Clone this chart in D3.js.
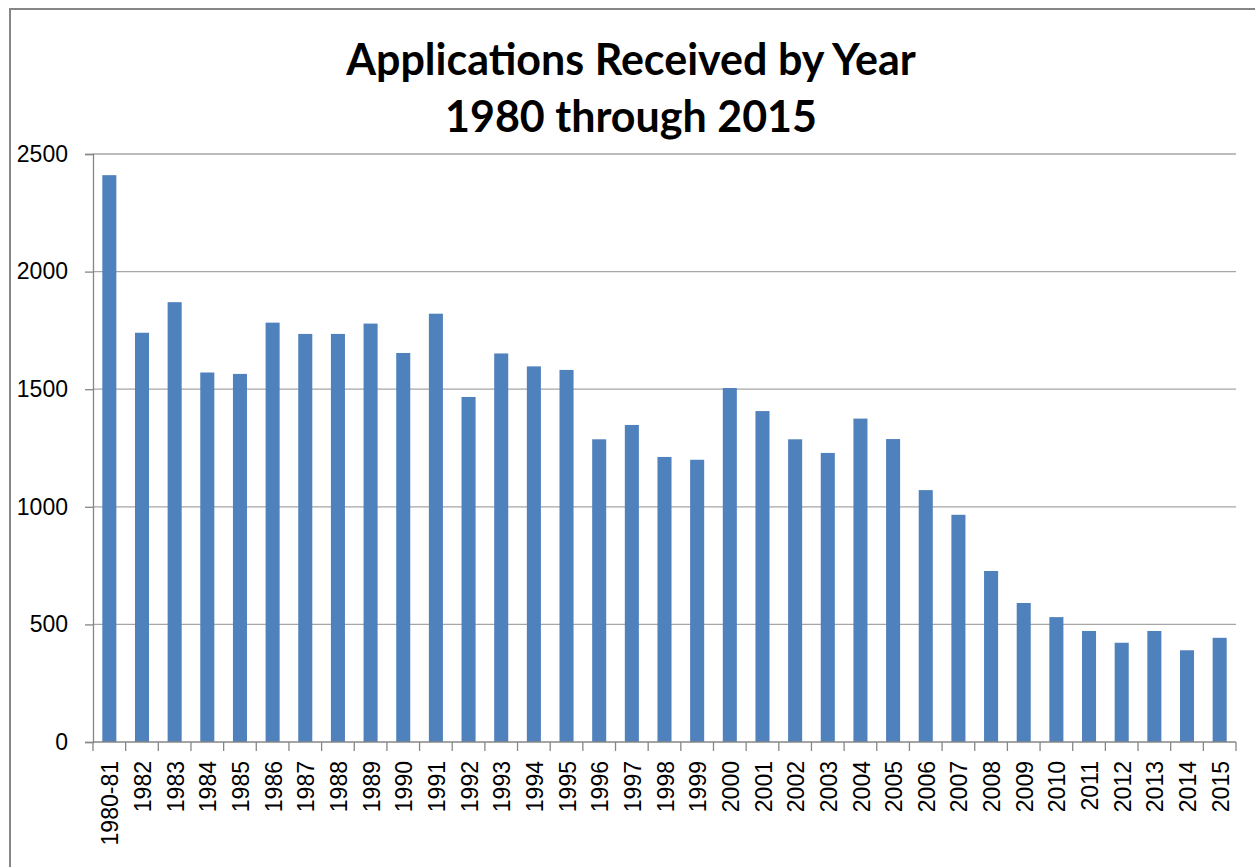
<!DOCTYPE html>
<html>
<head>
<meta charset="utf-8">
<script src="https://cdn.jsdelivr.net/npm/d3@7"></script>
<style>
    body { margin: 0; background: #fff; }
    svg { display: block; }
    .tick-label { font-family: "Liberation Sans", Arial, sans-serif; font-size: 23px; fill: #000; }
    .title { font-family: Lato, "Open Sans", sans-serif; font-weight: bold; font-size: 43px; fill: #000; }
</style>
</head>
<body>
<div id="chart"></div>
<script>
document.addEventListener("DOMContentLoaded", function () {
    // data
    var years = ["1980-81", "1982", "1983", "1984", "1985", "1986", "1987", "1988", "1989", "1990",
        "1991", "1992", "1993", "1994", "1995", "1996", "1997", "1998", "1999", "2000",
        "2001", "2002", "2003", "2004", "2005", "2006", "2007", "2008", "2009", "2010",
        "2011", "2012", "2013", "2014", "2015"];
    var applications = [2410, 1740, 1870, 1571, 1565, 1783, 1735, 1735, 1779, 1654,
        1821, 1467, 1652, 1597, 1582, 1287, 1348, 1212, 1200, 1505,
        1407, 1287, 1229, 1375, 1288, 1071, 966, 727, 591, 531,
        472, 422, 472, 390, 443];
    var yTicks = [0, 500, 1000, 1500, 2000, 2500];
    var titleLines = ["Applications Received by Year", "1980 through 2015"];

    var data = years.map(function (y, i) { return { year: y, value: applications[i] }; });

    var margin = { top: 154, right: 19, bottom: 125, left: 93 },
        svgWidth = 1255,
        svgHeight = 867,
        width = svgWidth - margin.left - margin.right,
        height = svgHeight - margin.top - margin.bottom;

    var svg = d3.select("#chart")
        .append("svg")
        .attr("width", svgWidth)
        .attr("height", svgHeight);

    // chart area frame (cut off at right and bottom like the screenshot)
    svg.append("rect")
        .attr("x", 10).attr("y", 9)
        .attr("width", 1300).attr("height", 900)
        .attr("fill", "#fff")
        .attr("stroke", "#868686")
        .attr("stroke-width", 2);

    // title
    svg.selectAll(".title")
        .data(titleLines)
        .enter().append("text")
        .attr("class", "title")
        .attr("x", 631)
        .attr("y", (d, i) => 75 + i * 57)
        .attr("text-anchor", "middle")
        .text(d => d);

    var g = svg.append("g")
        .attr("transform", `translate(${margin.left},${margin.top})`);

    var x = d3.scaleBand()
        .domain(years)
        .range([0, width])
        .paddingInner(0.57)
        .paddingOuter(0.285);

    var y = d3.scaleLinear()
        .domain([0, 2500])
        .range([height, 0]);

    // gridlines
    g.selectAll(".grid")
        .data(yTicks.filter(d => d > 0))
        .enter().append("line")
        .attr("x1", 0).attr("x2", width)
        .attr("y1", d => y(d)).attr("y2", d => y(d))
        .attr("stroke", "#a6a6a6")
        .attr("stroke-width", 1.3);

    // y axis
    var yAxis = d3.axisLeft(y)
        .tickValues(yTicks)
        .tickFormat(d3.format("d"))
        .tickSize(8)
        .tickPadding(17);

    g.append("g")
        .attr("class", "y axis")
        .call(yAxis)
        .call(a => a.select(".domain").attr("stroke", "#868686").attr("stroke-width", 1.3))
        .call(a => a.selectAll(".tick line").attr("stroke", "#868686").attr("stroke-width", 1.3))
        .call(a => a.selectAll(".tick text").attr("class", "tick-label").attr("font-family", null).attr("font-size", null));

    // bars
    g.selectAll(".bar")
        .data(data)
        .enter().append("rect")
        .attr("class", "bar")
        .attr("x", d => x(d.year))
        .attr("y", d => y(d.value))
        .attr("width", x.bandwidth())
        .attr("height", d => height - y(d.value))
        .attr("fill", "#4f81bd");

    // x axis line and category separators
    g.append("line")
        .attr("x1", 0).attr("x2", width)
        .attr("y1", height).attr("y2", height)
        .attr("stroke", "#868686")
        .attr("stroke-width", 1.3);

    var half = (x.step() - x.bandwidth()) / 2;
    var seps = years.map(d => x(d) - half).concat([x(years[years.length - 1]) + x.bandwidth() + half]);

    g.selectAll(".sep")
        .data(seps)
        .enter().append("line")
        .attr("x1", d => d).attr("x2", d => d)
        .attr("y1", height).attr("y2", height + 9)
        .attr("stroke", "#868686")
        .attr("stroke-width", 1.3);

    // rotated category labels
    g.selectAll(".xlabel")
        .data(years)
        .enter().append("text")
        .attr("class", "tick-label")
        .attr("transform", d => `translate(${x(d) + x.bandwidth() / 2 + 1},${height + 19}) rotate(-90)`)
        .attr("text-anchor", "end")
        .attr("dy", "0.35em")
        .text(d => d);
});
</script>
</body>
</html>
